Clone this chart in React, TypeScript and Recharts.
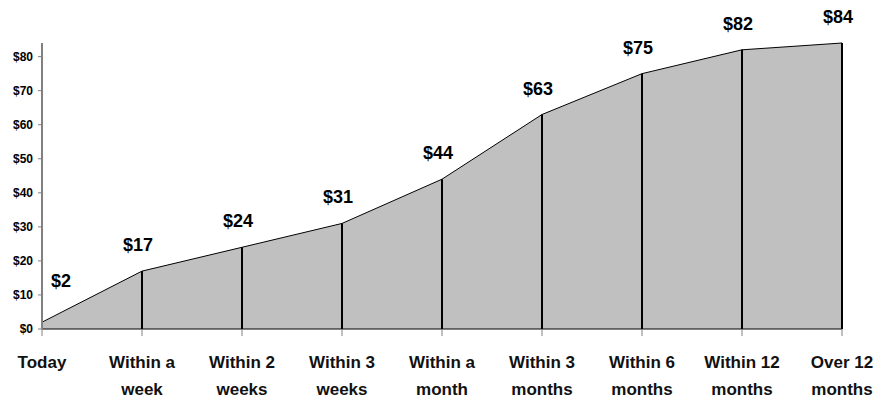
import React from 'react';
import {
  AreaChart,
  Area,
  XAxis,
  YAxis,
  ReferenceLine,
  LabelList,
} from 'recharts';

const categories = [
  'Today',
  'Within a\nweek',
  'Within 2\nweeks',
  'Within 3\nweeks',
  'Within a\nmonth',
  'Within 3\nmonths',
  'Within 6\nmonths',
  'Within 12\nmonths',
  'Over 12\nmonths',
];
const values = [2, 17, 24, 31, 44, 63, 75, 82, 84];
const yTicks = [0, 10, 20, 30, 40, 50, 60, 70, 80];

const FONT = '"Liberation Sans", Arial, sans-serif';

const data = categories.map((c, i) => ({ cat: c, value: values[i] }));

const CategoryTick = ({ x, y, payload }: any) => {
  const lines = String(payload.value).split('\n');
  return (
    <text
      x={x}
      y={y}
      textAnchor="middle"
      fontFamily={FONT}
      fontWeight="bold"
      fontSize={17}
      fill="#111"
    >
      {lines.map((l, i) => (
        <tspan key={i} x={x} dy={i === 0 ? 30 : 27}>
          {l}
        </tspan>
      ))}
    </text>
  );
};

// excel puts the first label off to the right of the point
const ValueLabel = ({ x, y, value, index }: any) => {
  const first = index === 0;
  return (
    <text
      x={first ? x + 19 : x - 4}
      y={first ? y - 35 : y - 20}
      textAnchor="middle"
      fontFamily={FONT}
      fontWeight="bold"
      fontSize={18}
      fill="#000"
    >
      ${value}
    </text>
  );
};

export default function App() {
  return (
    <div style={{ position: 'absolute', left: 0, top: 0, background: '#fff' }}>
      <AreaChart
        width={878}
        height={401}
        data={data}
        margin={{ top: 43, right: 36, left: 0, bottom: 0 }}
      >
        <Area
          type="linear"
          dataKey="value"
          stroke="#000"
          strokeWidth={1}
          fill="#c0c0c0"
          fillOpacity={1}
          dot={false}
          activeDot={false}
          isAnimationActive={false}
        >
          <LabelList dataKey="value" content={<ValueLabel />} />
        </Area>
        {data.map((d) => (
          <ReferenceLine
            key={d.cat}
            segment={[
              { x: d.cat, y: 0 },
              { x: d.cat, y: d.value },
            ]}
            stroke="#000"
            strokeWidth={2}
          />
        ))}
        <XAxis
          dataKey="cat"
          height={72}
          tickSize={7}
          axisLine={{ stroke: '#000', strokeWidth: 1 }}
          tickLine={{ stroke: '#808080', strokeWidth: 1 }}
          tick={<CategoryTick />}
          interval={0}
        />
        <YAxis
          width={42}
          domain={[0, 84]}
          ticks={yTicks}
          tickSize={4}
          tickMargin={5}
          axisLine={{ stroke: '#808080', strokeWidth: 2 }}
          tickLine={{ stroke: '#808080', strokeWidth: 1 }}
          tickFormatter={(v) => `$${v}`}
          tick={{
            fill: '#000',
            fontSize: 12,
            fontWeight: 'bold',
            fontFamily: FONT,
          }}
        />
      </AreaChart>
    </div>
  );
}
